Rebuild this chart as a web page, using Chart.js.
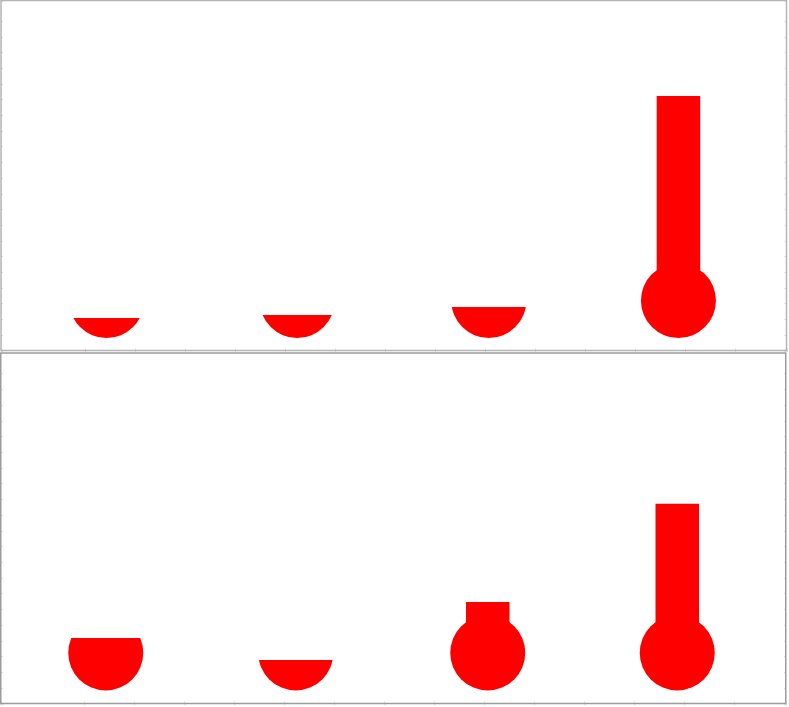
<!DOCTYPE html>
<html>
<head>
<meta charset="utf-8">
<style>
html,body{margin:0;padding:0;background:#fff;overflow:hidden}
canvas{position:absolute;left:0}
#top{top:0}
#bottom{top:352px}
</style>
<script src="https://cdn.jsdelivr.net/npm/chart.js@4"></script>
</head>
<body>
<canvas id="top" width="789" height="352"></canvas>
<canvas id="bottom" width="789" height="355"></canvas>
<script>
const topPositions = [1.44, 5.25, 9.08, 12.87];
const topLevels = [2.07, 2.26, 2.77, 16.21];
const topBulbCentre = 3.18;
const bottomPositions = [1.43, 5.23, 9.07, 12.86];
const bottomLevels = [4.17, 2.77, 6.46, 12.71];
const bottomBulbCentre = 3.22;

const RED = '#ff0000';
const BULB_RADIUS = 37.5;

const thermometer = {
  id: 'thermometer',
  afterDatasetsDraw(chart, args, opts) {
    const {ctx, chartArea: a, scales: {x, y}} = chart;
    const cy = y.getPixelForValue(opts.centre);
    opts.positions.forEach((p, i) => {
      const cx = x.getPixelForValue(p);
      const top = y.getPixelForValue(opts.levels[i]);
      ctx.save();
      ctx.beginPath();
      ctx.rect(a.left, top, a.width, a.bottom - top);
      ctx.clip();
      ctx.beginPath();
      ctx.arc(cx, cy, BULB_RADIUS, 0, Math.PI * 2);
      ctx.fillStyle = RED;
      ctx.fill();
      ctx.restore();
    });
    // frame and its short tick marks
    ctx.save();
    ctx.strokeStyle = '#dcdcdc';
    ctx.lineWidth = 1;
    ctx.beginPath();
    x.ticks.forEach((t, i) => {
      const px = Math.round(x.getPixelForTick(i)) + 0.5;
      ctx.moveTo(px, a.bottom - 2); ctx.lineTo(px, a.bottom + 2);
    });
    y.ticks.forEach((t, i) => {
      const py = Math.round(y.getPixelForTick(i)) + 0.5;
      ctx.moveTo(a.left, py); ctx.lineTo(a.left + 2, py);
      ctx.moveTo(a.right - 2, py); ctx.lineTo(a.right, py);
    });
    ctx.stroke();
    ctx.strokeStyle = opts.frame;
    ctx.lineWidth = 1.5;
    ctx.strokeRect(a.left, a.top, a.width, a.height);
    ctx.restore();
  }
};

function draw(id, positions, levels, centre, area, frame) {
  const tubes = positions.map((p, i) =>
    levels[i] > centre ? {x: p, y: [centre, levels[i]]} : {x: p, y: null});
  new Chart(document.getElementById(id), {
    type: 'bar',
    data: {datasets: [{data: tubes, backgroundColor: RED, borderWidth: 0,
      inflateAmount: 0, barThickness: 43.5, grouped: false}]},
    plugins: [thermometer],
    options: {
      responsive: false,
      animation: false,
      events: [],
      layout: {padding: area},
      plugins: {legend: {display: false}, tooltip: {enabled: false},
        thermometer: {positions, levels, centre, frame}},
      scales: {
        x: {type: 'linear', offset: false, min: -0.67, max: 15.03,
          grid: {display: false, drawTicks: false, tickLength: 0, offset: false}, border: {display: false},
          ticks: {display: false, padding: 0, stepSize: 1, autoSkip: false}},
        y: {min: 0, max: 22.3,
          grid: {display: false, drawTicks: false, tickLength: 0}, border: {display: false},
          ticks: {display: false, padding: 0, stepSize: 1, autoSkip: false}}
      }
    }
  });
}

draw('top', topPositions, topLevels, topBulbCentre,
  {left: 1, right: 2.5, top: 0.5, bottom: 1.5}, '#b4b4b4');
draw('bottom', bottomPositions, bottomLevels, bottomBulbCentre,
  {left: 0.75, right: 3.25, top: 1, bottom: 3.5}, '#9c9c9c');
</script>
</body>
</html>
